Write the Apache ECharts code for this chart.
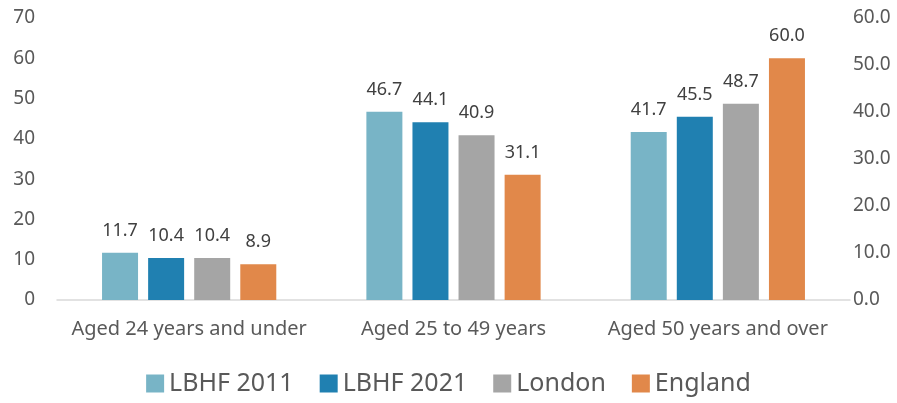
<!DOCTYPE html>
<html lang="en">
<head>
    <meta charset="UTF-8">
    <title>Age bands</title>
    <script src="https://cdn.jsdelivr.net/npm/echarts@6.0.0/dist/echarts.min.js"></script>
    <style>
        html, body { margin: 0; padding: 0; background: #fff; }
    </style>
</head>
<body>
    <div id="chart" style="width: 897px; height: 403px;"></div>

    <script>
        // categories and series
        const categories = ['Aged 24 years and under', 'Aged 25 to 49 years', 'Aged 50 years and over'];
        const lbhf2011 = [11.7, 46.7, 41.7];
        const lbhf2021 = [10.4, 44.1, 45.5];
        const london = [10.4, 40.9, 48.7];
        const england = [8.9, 31.1, 60.0];
        const seriesNames = ['LBHF 2011', 'LBHF 2021', 'London', 'England'];
        const colors = ['#78B4C6', '#2080B1', '#A5A5A5', '#E1884A'];

        const font = 'Noto Sans';
        const textColor = '#595959';

        const chart = echarts.init(document.getElementById('chart'));

        function makeSeries(name, data) {
            return {
                name: name,
                type: 'bar',
                data: data,
                barWidth: 36,
                barGap: '28%',
                label: {
                    show: true,
                    position: 'top',
                    distance: 13,
                    color: '#404040',
                    fontFamily: font,
                    fontSize: 18,
                    formatter: p => p.value.toFixed(1)
                }
            };
        }

        const option = {
            color: colors,
            animation: false,
            grid: { left: 57, right: 47, top: 18, bottom: 103 },
            legend: {
                bottom: 2,
                left: 'center',
                itemWidth: 18,
                itemHeight: 18,
                itemGap: 26,
                icon: 'rect',
                textStyle: { fontFamily: font, fontSize: 25, color: textColor },
                data: seriesNames
            },
            xAxis: {
                type: 'category',
                data: categories,
                axisLine: { lineStyle: { color: '#D9D9D9', width: 1.5 } },
                axisTick: { show: false },
                axisLabel: { interval: 0, fontFamily: font, fontSize: 20, color: textColor, margin: 19 }
            },
            yAxis: [
                {
                    type: 'value',
                    min: 0, max: 70, interval: 10,
                    splitLine: { show: false },
                    axisLine: { show: false },
                    axisTick: { show: false },
                    axisLabel: { fontFamily: font, fontSize: 19, color: textColor, margin: 22 }
                },
                {
                    type: 'value',
                    min: 0, max: 60, interval: 10,
                    position: 'right',
                    splitLine: { show: false },
                    axisLine: { show: false },
                    axisTick: { show: false },
                    axisLabel: {
                        fontFamily: font, fontSize: 19, color: textColor, margin: 3,
                        formatter: v => v.toFixed(1)
                    }
                }
            ],
            series: [
                makeSeries(seriesNames[0], lbhf2011),
                makeSeries(seriesNames[1], lbhf2021),
                makeSeries(seriesNames[2], london),
                makeSeries(seriesNames[3], england)
            ]
        };

        chart.setOption(option);
    </script>
</body>
</html>
